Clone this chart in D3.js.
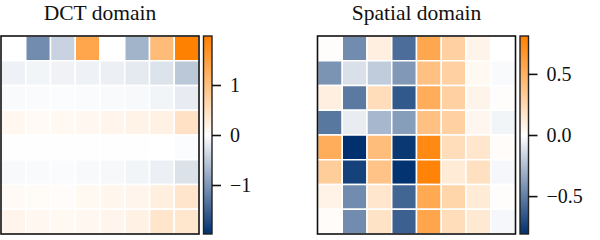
<!DOCTYPE html>
<html>
<head>
<meta charset="utf-8">
<script src="https://cdn.jsdelivr.net/npm/d3@7"></script>
<style>
  body { margin: 0; background: #fff; }
  svg { display: block; }
</style>
</head>
<body>
<div id="chart"></div>
<script>
// values, row by row (top to bottom)
const dctValues = [
  [0.00, -1.10, -0.43, 1.40, 0.00, -0.72, 1.05, 1.97],
  [-0.13, -0.10, -0.12, -0.13, -0.15, -0.20, -0.27, -0.53],
  [-0.05, -0.04, -0.03, -0.04, -0.05, -0.06, -0.10, -0.18],
  [0.12, 0.08, 0.10, 0.12, 0.15, 0.18, 0.22, 0.45],
  [0.01, 0.01, 0.01, 0.01, 0.01, 0.01, 0.00, -0.03],
  [-0.06, -0.05, -0.04, -0.06, -0.07, -0.10, -0.15, -0.28],
  [0.08, 0.06, 0.04, 0.10, 0.13, 0.15, 0.25, 0.40],
  [0.15, 0.12, 0.10, 0.12, 0.15, 0.20, 0.40, 0.38]
];
const spatialValues = [
  [0.01, -0.45, 0.10, -0.57, 0.56, 0.30, 0.07, 0.00],
  [-0.42, -0.12, -0.20, -0.40, 0.40, 0.30, 0.04, -0.02],
  [0.10, -0.52, 0.22, -0.65, 0.52, 0.30, 0.07, 0.01],
  [-0.53, -0.07, -0.28, -0.38, 0.40, 0.30, 0.05, -0.04],
  [0.52, -0.81, 0.42, -0.78, 0.75, 0.22, 0.16, 0.02],
  [0.32, -0.74, 0.38, -0.80, 0.79, 0.13, 0.20, -0.03],
  [0.08, -0.45, 0.16, -0.60, 0.55, 0.27, 0.13, 0.01],
  [0.02, -0.45, 0.18, -0.62, 0.57, 0.22, 0.14, -0.03]
];
const titles = ["DCT domain", "Spatial domain"];
const dctTicks = [-1, 0, 1];
const spatialTicks = [-0.5, 0.0, 0.5];
const dctLimit = 1.98;
const spatialLimit = 0.81;

const serif = "'Liberation Serif'";
const width = 600, height = 240;
const svg = d3.select("#chart").append("svg")
  .attr("width", width)
  .attr("height", height);

const cmap = d3.piecewise(d3.interpolateRgb, ["#00306e", "#ffffff", "#ff8000"]);

const panels = [
  { values: dctValues, title: titles[0], ticks: dctTicks, limit: dctLimit, fmt: d3.format("d"), left: 1, cbLeft: 203.5, id: "g0" },
  { values: spatialValues, title: titles[1], ticks: spatialTicks, limit: spatialLimit, fmt: d3.format(".1f"), left: 317.5, cbLeft: 520, id: "g1" }
];

const plotTop = 36, size = 198, cbWidth = 8.5;
const defs = svg.append("defs");

panels.forEach(p => {
  const idx = d3.range(8);
  const x = d3.scaleBand().domain(idx).range([p.left, p.left + size]);
  const y = d3.scaleBand().domain(idx).range([plotTop, plotTop + size]);
  const color = d3.scaleLinear().domain([-p.limit, p.limit]).range([0, 1]).clamp(true);

  const cells = [];
  p.values.forEach((row, r) => row.forEach((v, c) => cells.push({ r, c, v })));

  const g = svg.append("g");
  g.selectAll("rect.cell")
    .data(cells)
    .enter().append("rect")
      .attr("class", "cell")
      .attr("x", d => x(d.c))
      .attr("y", d => y(d.r))
      .attr("width", x.bandwidth())
      .attr("height", y.bandwidth())
      .attr("fill", d => cmap(color(d.v)))
      .attr("stroke", "#fff")
      .attr("stroke-width", 1.5);

  g.append("rect")
    .attr("x", p.left)
    .attr("y", plotTop)
    .attr("width", size)
    .attr("height", size)
    .attr("fill", "none")
    .attr("stroke", "#111")
    .attr("stroke-width", 1.6);

  g.append("text")
    .attr("x", p.left + size / 2)
    .attr("y", 19.5)
    .attr("text-anchor", "middle")
    .style("font", `21.5px ${serif}`)
    .attr("fill", "#111")
    .text(p.title);

  // colorbar
  const grad = defs.append("linearGradient")
    .attr("id", p.id)
    .attr("x1", 0).attr("y1", 1).attr("x2", 0).attr("y2", 0);
  d3.range(0, 1.0001, 0.05).forEach(t => {
    grad.append("stop").attr("offset", t).attr("stop-color", cmap(t));
  });

  const cy = d3.scaleLinear().domain([-p.limit, p.limit]).range([plotTop + size, plotTop]);
  g.append("rect")
    .attr("x", p.cbLeft)
    .attr("y", plotTop)
    .attr("width", cbWidth)
    .attr("height", size)
    .attr("fill", `url(#${p.id})`)
    .attr("stroke", "#222")
    .attr("stroke-width", 1.4);

  const axis = g.append("g")
    .attr("transform", `translate(${p.cbLeft + cbWidth},0)`)
    .call(d3.axisRight(cy).tickValues(p.ticks).tickFormat(p.fmt).tickSize(9).tickPadding(9));
  axis.select(".domain").remove();
  axis.selectAll(".tick line").attr("stroke", "#111").attr("stroke-width", 1.6);
  axis.selectAll(".tick text")
    .style("font", `20px ${serif}`)
    .attr("fill", "#111");
});
</script>
</body>
</html>
